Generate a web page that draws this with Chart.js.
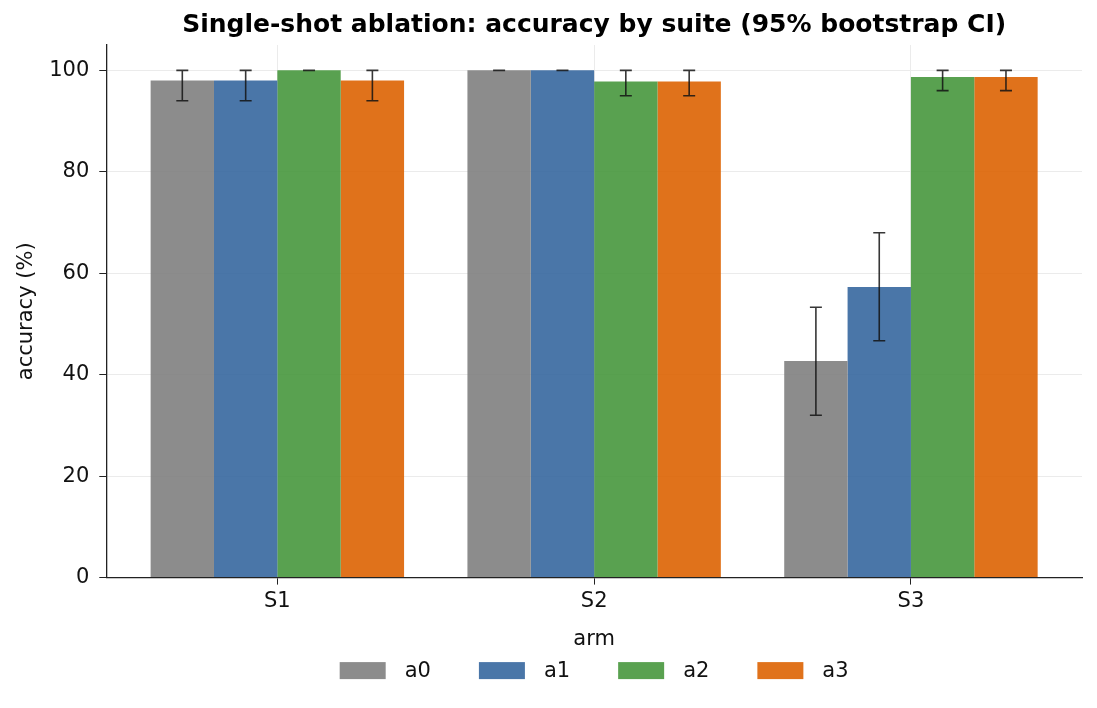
<!DOCTYPE html>
<html>
<head>
<meta charset="utf-8">
<script src="https://cdn.jsdelivr.net/npm/chart.js@4"></script>
<style>
  html, body { margin: 0; padding: 0; background: #fff; }
  #wrap { width: 1097px; height: 708px; }
</style>
</head>
<body>
<div id="wrap"><canvas id="myChart" width="1097" height="708"></canvas></div>
<script>
const suites = ['S1', 'S2', 'S3'];
const arms = ['a0', 'a1', 'a2', 'a3'];
const armColors = ['rgba(127,127,127,0.9)', 'rgba(54,103,158,0.9)', 'rgba(71,151,61,0.9)', 'rgba(221,99,2,0.9)'];

// accuracy (%) per arm, one value per suite
const a0 = [98.0, 100.0, 42.7];
const a1 = [98.0, 100.0, 57.3];
const a2 = [100.0, 97.8, 98.7];
const a3 = [98.0, 97.8, 98.7];

// 95% bootstrap CI bounds
const a0Low = [94.0, 100.0, 32.0];
const a0High = [100.0, 100.0, 53.3];
const a1Low = [94.0, 100.0, 46.7];
const a1High = [100.0, 100.0, 68.0];
const a2Low = [100.0, 95.0, 96.0];
const a2High = [100.0, 100.0, 100.0];
const a3Low = [94.0, 95.0, 96.0];
const a3High = [100.0, 100.0, 100.0];

const yTicks = [0, 20, 40, 60, 80, 100];

const values = [a0, a1, a2, a3];
const lows = [a0Low, a1Low, a2Low, a3Low];
const highs = [a0High, a1High, a2High, a3High];

const FONT = 'DejaVu Sans';
const FS = 21;

// x range like matplotlib: bars span -0.4..n-0.6, plus 5% margin each side
const xMargin = {
    id: 'xMargin',
    afterLayout(chart) {
        const x = chart.scales.x;
        const m = 0.54;
        x._startValue = -m;
        x._valueRange = suites.length - 1 + 2 * m;
    }
};

// draws the CI whiskers on top of the bars
const errorBars = {
    id: 'errorBars',
    afterDatasetsDraw(chart) {
        const ctx = chart.ctx;
        const y = chart.scales.y;
        ctx.save();
        ctx.strokeStyle = 'rgba(20,20,20,0.85)';
        ctx.lineWidth = 1.6;
        chart.data.datasets.forEach(function (ds, i) {
            const meta = chart.getDatasetMeta(i);
            meta.data.forEach(function (bar, j) {
                const top = y.getPixelForValue(ds.ciHigh[j]);
                const bot = y.getPixelForValue(ds.ciLow[j]);
                const x = bar.x;
                ctx.beginPath();
                ctx.moveTo(x, top); ctx.lineTo(x, bot);
                ctx.moveTo(x - 6, top); ctx.lineTo(x + 6, top);
                ctx.moveTo(x - 6, bot); ctx.lineTo(x + 6, bot);
                ctx.stroke();
            });
        });
        ctx.restore();
    }
};

// legend row under the axis title, centred on the plot area
const bottomLegend = {
    id: 'bottomLegend',
    afterDraw(chart) {
        const ctx = chart.ctx;
        const area = chart.chartArea;
        const boxW = 46, boxH = 17, textGap = 19, itemGap = 48;
        ctx.save();
        ctx.font = FS + 'px ' + FONT;
        ctx.textBaseline = 'middle';
        const widths = chart.data.datasets.map(ds => boxW + textGap + ctx.measureText(ds.label).width);
        const total = widths.reduce((a, b) => a + b, 0) + itemGap * (widths.length - 1);
        let x = (area.left + area.right) / 2 - total / 2;
        const yc = area.bottom + 93;
        chart.data.datasets.forEach(function (ds, i) {
            ctx.fillStyle = ds.backgroundColor;
            ctx.fillRect(x, yc - boxH / 2, boxW, boxH);
            ctx.fillStyle = '#111';
            ctx.fillText(ds.label, x + boxW + textGap, yc + 1);
            x += widths[i] + itemGap;
        });
        ctx.restore();
    }
};

const ctx = document.getElementById('myChart');

new Chart(ctx, {
    type: 'bar',
    data: {
        labels: suites,
        datasets: arms.map(function (arm, i) {
            return {
                label: arm,
                data: values[i],
                ciLow: lows[i],
                ciHigh: highs[i],
                backgroundColor: armColors[i],
                borderWidth: 0,
                categoryPercentage: 0.8,
                barPercentage: 1.0
            };
        })
    },
    options: {
        responsive: false,
        animation: false,
        layout: { padding: { left: 14, right: 15, top: 0, bottom: 56 } },
        plugins: {
            title: {
                display: true,
                fullSize: false,
                text: 'Single-shot ablation: accuracy by suite (95% bootstrap CI)',
                color: '#000',
                font: { family: FONT, size: 25, weight: 'bold' },
                padding: { top: 10, bottom: 5 }
            },
            legend: { display: false },
            tooltip: { enabled: false }
        },
        scales: {
            x: {
                grid: { offset: false, color: '#ebebeb', tickColor: '#222', tickLength: 7 },
                border: { color: '#222', width: 1.3 },
                ticks: { color: '#111', font: { family: FONT, size: FS }, padding: 4 },
                title: { display: true, text: 'arm', color: '#111', font: { family: FONT, size: FS }, padding: { top: 9, bottom: 0 } }
            },
            y: {
                min: 0,
                max: 105,
                afterBuildTicks: function (scale) {
                    scale.ticks = yTicks.map(v => ({ value: v }));
                },
                grid: { color: '#ebebeb', tickColor: '#222', tickLength: 7 },
                border: { color: '#222', width: 1.3 },
                ticks: { color: '#111', font: { family: FONT, size: FS }, padding: 10 },
                title: { display: true, text: 'accuracy (%)', color: '#111', font: { family: FONT, size: FS }, padding: { top: 0, bottom: 0 } }
            }
        }
    },
    plugins: [xMargin, errorBars, bottomLegend]
});
</script>
</body>
</html>
